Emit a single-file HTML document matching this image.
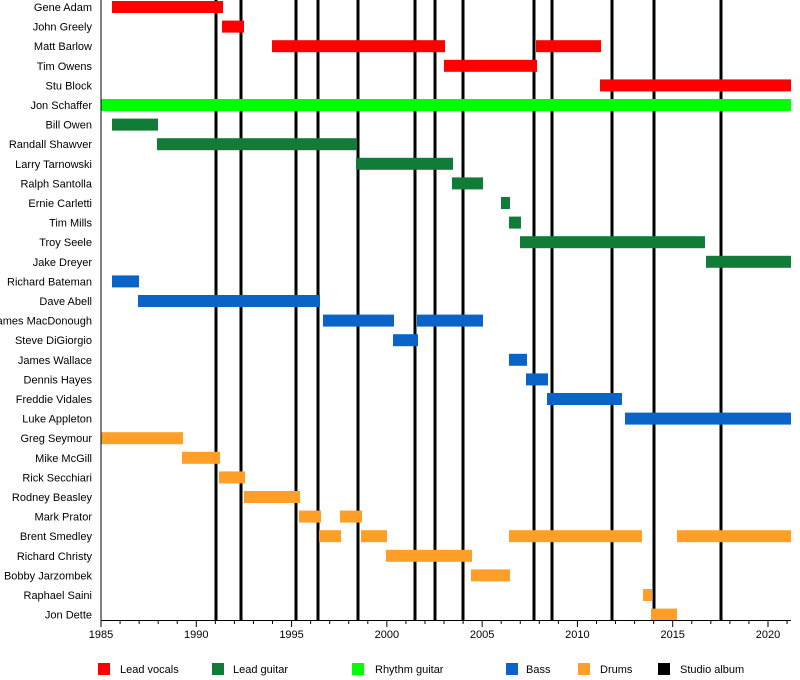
<!DOCTYPE html>
<html><head><meta charset="utf-8"><style>
html,body{margin:0;padding:0;background:#fff;}
svg{display:block;font-family:"Liberation Sans",sans-serif;}
</style></head><body>
<svg id="s" width="800" height="680" xmlns="http://www.w3.org/2000/svg"></svg>
<script>
const R='#ff0000',G='#107c38',L='#00ff00',B='#0a64c8',O='#ff9f27';
const rows=[
["Gene Adam",R,[[112,223]]],
["John Greely",R,[[222,244]]],
["Matt Barlow",R,[[272,445],[536,601]]],
["Tim Owens",R,[[444,537]]],
["Stu Block",R,[[600,791]]],
["Jon Schaffer",L,[[101,791]]],
["Bill Owen",G,[[112,158]]],
["Randall Shawver",G,[[157,357]]],
["Larry Tarnowski",G,[[356,453]]],
["Ralph Santolla",G,[[452,483]]],
["Ernie Carletti",G,[[501,510]]],
["Tim Mills",G,[[509,521]]],
["Troy Seele",G,[[520,705]]],
["Jake Dreyer",G,[[706,791]]],
["Richard Bateman",B,[[112,139]]],
["Dave Abell",B,[[138,320]]],
["James MacDonough",B,[[323,394],[417,483]]],
["Steve DiGiorgio",B,[[393,418]]],
["James Wallace",B,[[509,527]]],
["Dennis Hayes",B,[[526,548]]],
["Freddie Vidales",B,[[547,622]]],
["Luke Appleton",B,[[625,791]]],
["Greg Seymour",O,[[101,183]]],
["Mike McGill",O,[[182,220]]],
["Rick Secchiari",O,[[219,245]]],
["Rodney Beasley",O,[[244,300]]],
["Mark Prator",O,[[299,321],[340,362]]],
["Brent Smedley",O,[[319,341],[361,387],[509,642],[677,791]]],
["Richard Christy",O,[[386,472]]],
["Bobby Jarzombek",O,[[471,510]]],
["Raphael Saini",O,[[643,652]]],
["Jon Dette",O,[[651,677]]]];
let h='';
[216,241,296,318,358,415,435,463,534,552,612,654,721].forEach(x=>{h+=`<rect x="${x-1.5}" y="0" width="3" height="620" fill="#000"/>`;});
rows.forEach((r,i)=>{const c=7+i*19.6;
h+=`<text x="92" y="${c+4}" font-size="11" text-anchor="end" fill="#000">${r[0]}</text>`;
r[2].forEach(b=>{h+=`<rect x="${b[0]}" y="${c-6}" width="${b[1]-b[0]}" height="12" fill="${r[1]}"/>`;});});
h+=`<line x1="101" y1="0" x2="101" y2="620" stroke="#000"/><line x1="101" y1="620.5" x2="791" y2="620.5" stroke="#000"/>`;
const px=y=>101+(y-1985)*19.057;
for(let y=1985;y<=2021;y++){const x=px(y);h+=`<line x1="${x}" y1="620" x2="${x}" y2="${y%5==0?627:624}" stroke="#000"/>`;
if(y%5==0)h+=`<text x="${x}" y="638" font-size="11" text-anchor="middle">${y}</text>`;}
[[98,120,R,"Lead vocals"],[212,233,G,"Lead guitar"],[352,375,L,"Rhythm guitar"],[506,526,B,"Bass"],[578,600,O,"Drums"],[658,680,'#000',"Studio album"]].forEach(l=>{
h+=`<rect x="${l[0]}" y="663" width="12" height="12" fill="${l[2]}"/><text x="${l[1]}" y="673" font-size="11">${l[3]}</text>`;});
document.getElementById('s').innerHTML=h;
</script>
</body></html>
